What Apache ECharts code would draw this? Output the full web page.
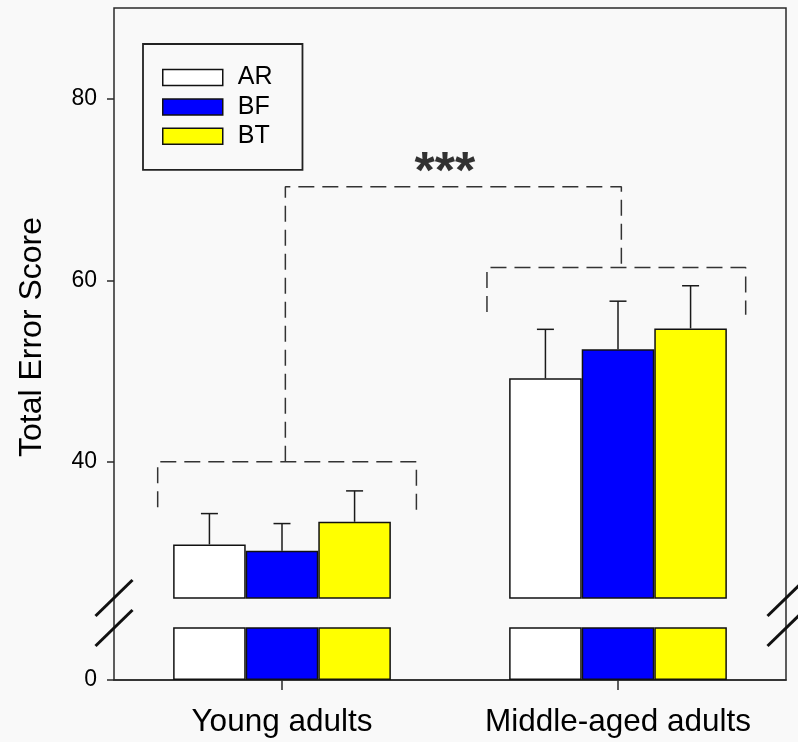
<!DOCTYPE html>
<html>
<head>
<meta charset="utf-8">
<script src="https://cdn.jsdelivr.net/npm/echarts@6/dist/echarts.min.js"></script>
<style>
html,body{margin:0;padding:0;background:#f9f9f9;}
#chart{width:798px;height:742px;}
</style>
</head>
<body>
<div id="chart"></div>
<script>
// ---- data ----
const categories = ['Young adults', 'Middle-aged adults'];
const seriesNames = ['AR', 'BF', 'BT'];
const arValues = [30.9, 49.2];
const arErrors = [3.4, 5.4];
const bfValues = [30.2, 52.4];
const bfErrors = [3.0, 5.3];
const btValues = [33.4, 54.7];
const btErrors = [3.4, 4.7];
const upperTicks = [40, 60, 80];
const lowerTicks = [0];
// significance brackets [x (category units, 0..2), y]
const youngBracket = [[0.13, 35.0], [0.13, 40], [0.90, 40], [0.90, 34.7]];
const middleBracket = [[1.11, 56.5], [1.11, 61.4], [1.88, 61.4], [1.88, 56.2]];
const sigBracket = [[0.51, 40], [0.51, 70.3], [1.51, 70.3], [1.51, 61.4]];
const sigLabel = [[0.985, 71.7]];
const sigText = '***';

// ---- styles ----
const FONT = '"Liberation Sans", Arial, sans-serif';
const COLORS = ['#ffffff', '#0000ff', '#ffff00'];
const LEFT = 114, RIGHT = 12;          // grid margins
const TOP = 8, UPPER_BOTTOM = 144;      // upper grid
const LOWER_TOP = 628, BOTTOM = 62;     // lower grid
const BAR_FRAC = 0.216;
const AXIS_COLOR = '#2a2a2a';

const values = [arValues, bfValues, btValues];
const errors = [arErrors, bfErrors, btErrors];

const chart = echarts.init(document.getElementById('chart'), null, {renderer: 'canvas'});

const series = [];
// upper bars
seriesNames.forEach((n, i) => {
  series.push({
    name: n, type: 'bar', xAxisIndex: 0, yAxisIndex: 0,
    data: values[i], barWidth: (BAR_FRAC * 100) + '%', barGap: '0%',
    itemStyle: {color: COLORS[i], borderColor: '#111', borderWidth: 1.5},
    clip: true, silent: true
  });
});
// lower bars (clipped by the axis break)
seriesNames.forEach((n, i) => {
  series.push({
    name: n, type: 'bar', xAxisIndex: 1, yAxisIndex: 1,
    data: values[i], barWidth: (BAR_FRAC * 100) + '%', barGap: '0%',
    itemStyle: {color: COLORS[i], borderColor: '#111', borderWidth: 1.5},
    clip: true, silent: true
  });
});
// error bars (upper only)
seriesNames.forEach((n, i) => {
  const off = i - 1;
  series.push({
    type: 'custom', xAxisIndex: 0, yAxisIndex: 0, silent: true, z: 5,
    data: categories.map((c, k) => [k, values[i][k], errors[i][k]]),
    renderItem: function (params, api) {
      const k = api.value(0), v = api.value(1), e = api.value(2);
      const p0 = api.coord([k, v]);
      const p1 = api.coord([k, v + e]);
      const band = api.size([1, 0])[0];
      const x = p0[0] + off * band * BAR_FRAC;
      const st = {stroke: '#1a1a1a', lineWidth: 1.5};
      return {type: 'group', children: [
        {type: 'line', shape: {x1: x, y1: p0[1], x2: x, y2: p1[1]}, style: st},
        {type: 'line', shape: {x1: x - 8.5, y1: p1[1], x2: x + 8.5, y2: p1[1]}, style: st}
      ]};
    }
  });
});
// brackets
[youngBracket, middleBracket, sigBracket].forEach(b => {
  series.push({
    type: 'line', xAxisIndex: 2, yAxisIndex: 0, data: b, symbol: 'none', silent: true,
    lineStyle: {color: '#333', width: 1.5, type: [16, 8]}, z: 4
  });
});
series.push({
  type: 'scatter', xAxisIndex: 2, yAxisIndex: 0, data: sigLabel, symbolSize: 0, silent: true,
  itemStyle: {color: '#000'},
  label: {show: true, position: 'inside', formatter: sigText, fontFamily: FONT,
          fontWeight: 'bold', fontSize: 52, color: '#000'}
});

const option = {
  backgroundColor: '#f9f9f9',
  animation: false,
  textStyle: {fontFamily: FONT},
  legend: {
    data: seriesNames, orient: 'vertical', left: 143, top: 44,
    padding: [21, 30, 21, 19], itemWidth: 60, itemHeight: 16, itemGap: 4.4,
    borderColor: '#222', borderWidth: 1.8, icon: 'rect', selectedMode: false,
    itemStyle: {borderColor: '#111', borderWidth: 1.5},
    textStyle: {fontFamily: FONT, fontSize: 25, color: '#000', padding: [0, 0, 0, 10]}
  },
  grid: [
    {left: LEFT, right: RIGHT, top: TOP, bottom: UPPER_BOTTOM},
    {left: LEFT, right: RIGHT, top: LOWER_TOP, bottom: BOTTOM},
    {left: LEFT, right: RIGHT, top: TOP, bottom: BOTTOM, show: true, borderColor: AXIS_COLOR, borderWidth: 1.5, z: 0}
  ],
  xAxis: [
    {type: 'category', gridIndex: 0, data: categories, show: false},
    {type: 'category', gridIndex: 1, data: categories, position: 'bottom',
     axisLine: {show: true, lineStyle: {color: AXIS_COLOR, width: 1.5}},
     axisTick: {show: true, alignWithLabel: true, interval: 0, length: 10, lineStyle: {color: AXIS_COLOR, width: 1.5}},
     axisLabel: {interval: 0, hideOverlap: false, fontFamily: FONT, fontSize: 31.5, color: '#000', margin: 26},
     splitLine: {show: false}},
    {type: 'value', gridIndex: 0, min: 0, max: 2, show: false},
    {type: 'value', gridIndex: 2, min: 0, max: 1, show: false}
  ],
  yAxis: [
    {type: 'value', gridIndex: 0, min: 25, max: 90,
     axisLine: {show: false}, splitLine: {show: false},
     axisTick: {show: true, length: 7, customValues: upperTicks, lineStyle: {color: AXIS_COLOR, width: 1.5}},
     axisLabel: {customValues: upperTicks, fontFamily: FONT, fontSize: 23, color: '#000', margin: 17}},
    {type: 'value', gridIndex: 1, min: 0, max: 5.7,
     axisLine: {show: false}, splitLine: {show: false},
     axisTick: {show: true, length: 7, customValues: lowerTicks, lineStyle: {color: AXIS_COLOR, width: 1.5}},
     axisLabel: {customValues: lowerTicks, fontFamily: FONT, fontSize: 23, color: '#000', margin: 17}},
    {type: 'value', gridIndex: 2, min: 0, max: 1,
     axisLine: {show: false}, axisTick: {show: false}, axisLabel: {show: false}, splitLine: {show: false},
     name: 'Total Error Score', nameLocation: 'middle', nameGap: 66, nameRotate: 90,
     nameTextStyle: {fontFamily: FONT, fontSize: 32, color: '#000', padding: [0, 0, 0, 14]}}
  ],
  series: series
};
chart.setOption(option);

// axis-break marks, placed at the break between the two grids
const W = 798, H = 742;
const breakTop = H - UPPER_BOTTOM, breakBottom = LOWER_TOP;
const xs = [LEFT, W - RIGHT];
const slashes = [];
xs.forEach(x => {
  [breakTop, breakBottom].forEach(y => {
    slashes.push({type: 'line', z: 100, silent: true,
      shape: {x1: x - 18.5, y1: y + 18, x2: x + 18.5, y2: y - 18},
      style: {stroke: '#111', lineWidth: 3}});
  });
});
chart.setOption({graphic: slashes});
</script>
</body>
</html>
